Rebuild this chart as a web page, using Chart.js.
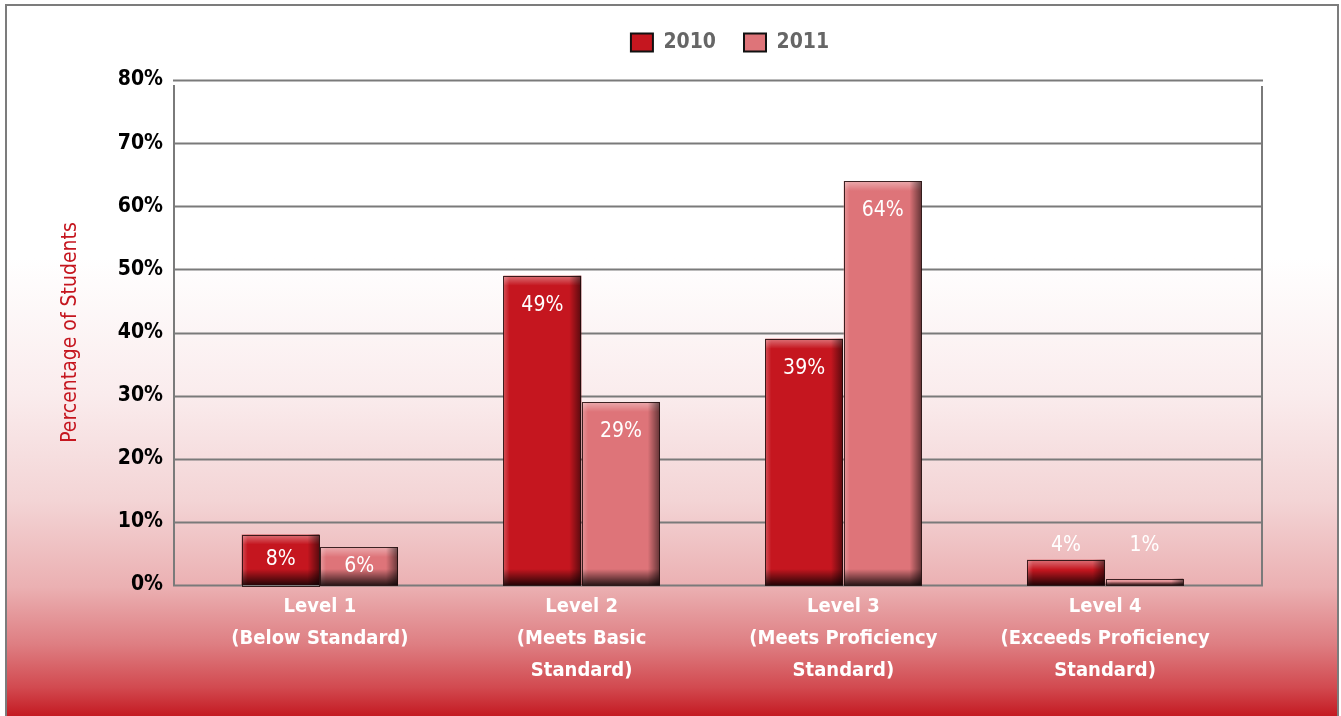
<!DOCTYPE html>
<html>
<head>
<meta charset="utf-8">
<script src="https://cdn.jsdelivr.net/npm/chart.js@4.4.1/dist/chart.umd.min.js"></script>
<style>
  html, body { margin: 0; padding: 0; background: #fff; }
  #wrap { width: 1341px; height: 716px; }
</style>
</head>
<body>
<div id="wrap"><canvas id="levelsChart" width="1341" height="716"></canvas></div>
<script>
// Student performance levels, 2010 vs 2011
const categories = [
  ['Level 1', '(Below Standard)'],
  ['Level 2', '(Meets Basic', 'Standard)'],
  ['Level 3', '(Meets Proficiency', 'Standard)'],
  ['Level 4', '(Exceeds Proficiency', 'Standard)']
];
const seriesNames = ['2010', '2011'];
const values2010 = [8, 49, 39, 4];
const values2011 = [6, 29, 64, 1];
const yMax = 80;
const yStep = 10;

const FONT = "'Liberation Sans Narrow', 'DejaVu Sans Condensed', 'Arial Narrow', sans-serif";
const GRID = '#7a7a7a';

// page background: white fading to red, with a thin grey frame
const backdrop = {
  id: 'backdrop',
  beforeDraw(chart) {
    const { ctx, width, height } = chart;
    ctx.save();
    ctx.fillStyle = '#fff';
    ctx.fillRect(0, 0, width, height);
    const g = ctx.createLinearGradient(0, 0, 0, height);
    g.addColorStop(0, '#ffffff');
    g.addColorStop(0.36, '#ffffff');
    g.addColorStop(0.55, '#faeced');
    g.addColorStop(0.7, '#f3d4d5');
    g.addColorStop(0.82, '#ebb0b2');
    g.addColorStop(0.9, '#de7e82');
    g.addColorStop(0.96, '#d24a50');
    g.addColorStop(1, '#c41a22');
    ctx.fillStyle = g;
    ctx.fillRect(6, 6, width - 8, height - 6);
    ctx.strokeStyle = '#7c7c7c';
    ctx.lineWidth = 2;
    ctx.beginPath();
    ctx.moveTo(6, height);
    ctx.lineTo(6, 5);
    ctx.lineTo(width - 3, 5);
    ctx.lineTo(width - 3, height);
    ctx.stroke();
    ctx.restore();
  }
};

// nudge the legend up and to the right, the way it sits in the original
const legendShift = {
  id: 'legendShift',
  afterLayout(chart) {
    const lg = chart.legend;
    lg.top -= 17; lg.bottom -= 17;
    lg.left += 83; lg.right += 83;
  }
};

// horizontal grid lines and side rules, a bit wider than the bar area
const frameGrid = {
  id: 'frameGrid',
  beforeDatasetsDraw(chart) {
    const { ctx, chartArea } = chart;
    const y = chart.scales.y;
    const left = chartArea.left - 16;
    const right = chartArea.right + 27;
    ctx.save();
    ctx.strokeStyle = GRID;
    ctx.lineWidth = 2;
    y.ticks.forEach(t => {
      const py = Math.round(y.getPixelForValue(t.value)) + 0.5;
      ctx.beginPath();
      ctx.moveTo(left, py);
      ctx.lineTo(right, py);
      ctx.stroke();
    });
    const bottom = Math.round(y.getPixelForValue(0)) + 1;
    ctx.beginPath();
    ctx.moveTo(left + 1, y.getPixelForValue(yMax) + 5);
    ctx.lineTo(left + 1, bottom);
    ctx.moveTo(right - 1, y.getPixelForValue(yMax) + 6);
    ctx.lineTo(right - 1, bottom);
    ctx.stroke();
    ctx.restore();
  }
};

// bevel shading on the bars plus the percentage labels
const barFinish = {
  id: 'barFinish',
  afterDatasetsDraw(chart) {
    const { ctx } = chart;
    ctx.save();
    chart.data.datasets.forEach((ds, di) => {
      const meta = chart.getDatasetMeta(di);
      meta.data.forEach((bar, i) => {
        const { x, y, base, width } = bar.getProps(['x', 'y', 'base', 'width'], true);
        const l = x - width / 2, r = x + width / 2, h = base - y;
        // top highlight
        let g = ctx.createLinearGradient(0, y, 0, y + Math.min(10, h));
        g.addColorStop(0, 'rgba(255,255,255,0.4)');
        g.addColorStop(1, 'rgba(255,255,255,0)');
        ctx.fillStyle = g;
        ctx.fillRect(l, y, width, Math.min(10, h));
        // left highlight
        g = ctx.createLinearGradient(l, 0, l + 6, 0);
        g.addColorStop(0, 'rgba(255,255,255,0.25)');
        g.addColorStop(1, 'rgba(255,255,255,0)');
        ctx.fillStyle = g;
        ctx.fillRect(l, y, 6, h);
        // bottom shadow
        const sh = Math.min(16, h * 0.6);
        g = ctx.createLinearGradient(0, base - sh, 0, base);
        g.addColorStop(0, 'rgba(0,0,0,0)');
        g.addColorStop(1, 'rgba(0,0,0,0.8)');
        ctx.fillStyle = g;
        ctx.fillRect(l, base - sh, width, sh);
        // right edge shadow
        g = ctx.createLinearGradient(r - 12, 0, r, 0);
        g.addColorStop(0, 'rgba(0,0,0,0)');
        g.addColorStop(1, 'rgba(0,0,0,0.55)');
        ctx.fillStyle = g;
        ctx.fillRect(r - 12, y, 12, h);
        ctx.strokeStyle = 'rgba(30,10,10,0.85)';
        ctx.lineWidth = 1;
        ctx.strokeRect(Math.round(l) + 0.5, Math.round(y) + 0.5, Math.round(width) - 1, Math.round(h));

        // value label
        let ly;
        if (h < 30) ly = base - 39;
        else ly = Math.min(y + 30, y + h / 2);
        ctx.fillStyle = '#ffffff';
        ctx.font = '21px ' + FONT;
        ctx.textAlign = 'center';
        ctx.textBaseline = 'middle';
        ctx.fillText(ds.data[i] + '%', x, ly);
      });
    });
    ctx.restore();
  }
};

new Chart(document.getElementById('levelsChart'), {
  type: 'bar',
  data: {
    labels: categories,
    datasets: [
      { label: seriesNames[0], data: values2010, backgroundColor: '#c5161f', borderWidth: 0 },
      { label: seriesNames[1], data: values2011, backgroundColor: '#de7479', borderWidth: 0 }
    ]
  },
  options: {
    responsive: false,
    animation: false,
    layout: { padding: { top: 21, left: 58, right: 105, bottom: 0 } },
    datasets: { bar: { categoryPercentage: 0.6, barPercentage: 0.99 } },
    plugins: {
      legend: {
        position: 'top',
        labels: {
          boxWidth: 22,
          boxHeight: 18,
          padding: 28,
          color: '#666',
          font: { family: FONT, size: 21, weight: 'bold' },
          generateLabels(chart) {
            return chart.data.datasets.map((ds, i) => ({
              text: ds.label,
              fillStyle: ds.backgroundColor,
              strokeStyle: '#111',
              lineWidth: 2,
              fontColor: '#666',
              hidden: false,
              datasetIndex: i
            }));
          }
        }
      },
      tooltip: { enabled: false }
    },
    scales: {
      x: {
        grid: { display: false, drawTicks: false },
        border: { display: false },
        ticks: {
          color: '#ffffff',
          padding: 6,
          maxRotation: 0,
          autoSkip: false,
          font: { family: FONT, size: 20, weight: 'bold', lineHeight: 1.6 }
        },
        afterFit(s) { s.height = 131; }
      },
      y: {
        min: 0,
        max: yMax,
        grid: { display: false, drawTicks: false },
        border: { display: false },
        ticks: {
          stepSize: yStep,
          padding: 26,
          color: '#000',
          font: { family: FONT, size: 21, weight: 'bold' },
          callback: v => v + '%'
        },
        title: {
          display: true,
          text: 'Percentage of Students',
          color: '#c5161f',
          padding: { top: 0, bottom: 40 },
          font: { family: FONT, size: 21 }
        },
        afterFit(s) { s.width = 131; }
      }
    }
  },
  plugins: [backdrop, legendShift, frameGrid, barFinish]
});
</script>
</body>
</html>
